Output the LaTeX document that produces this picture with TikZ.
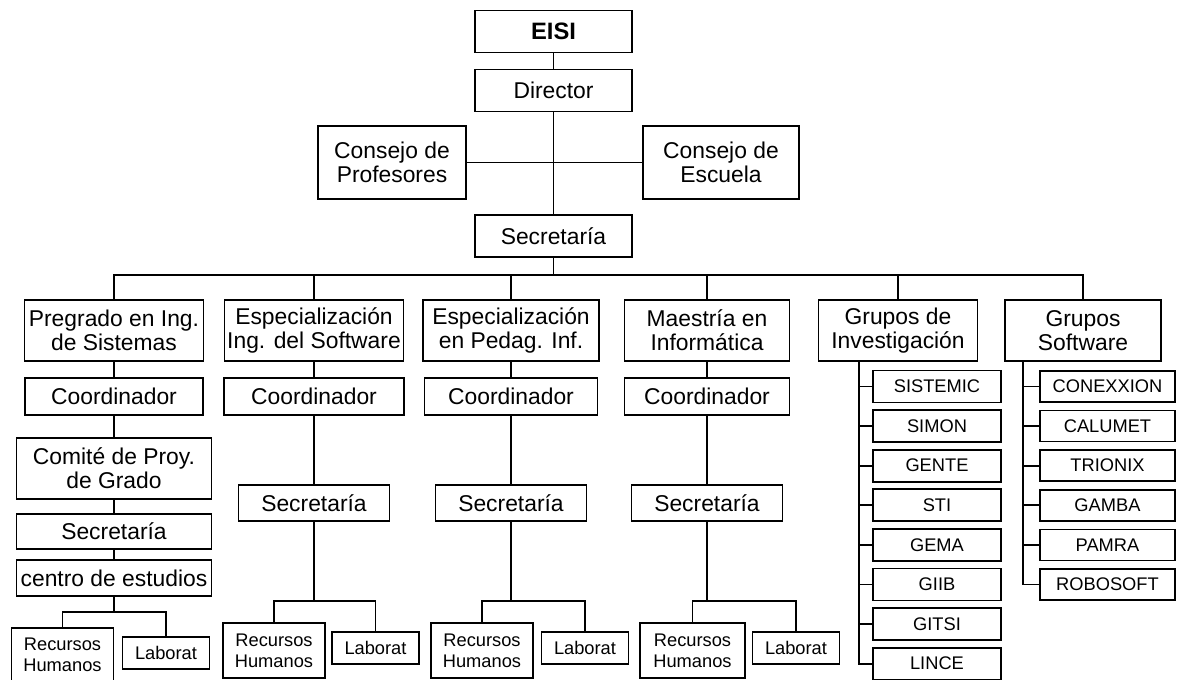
\documentclass[tikz,border=0pt]{standalone}
\usepackage{fontspec}
\setmainfont{Liberation Sans}
\tikzstyle{box} = [rectangle, draw=black, line width=1pt, inner sep=0pt, align=center, font=\fontsize{13}{13.6}\selectfont]
\tikzstyle{head} = [box, minimum width=3.14cm, minimum height=0.84cm]
\tikzstyle{council} = [box, minimum height=1.46cm]
\tikzstyle{program} = [box, minimum height=1.22cm]
\tikzstyle{coordbox} = [box, minimum height=0.74cm]
\tikzstyle{office} = [box, minimum height=0.72cm]
\tikzstyle{smallbox} = [box, font=\fontsize{10.4}{12}\selectfont]
\tikzstyle{staff} = [smallbox, minimum width=2.04cm, minimum height=1.1cm]
\tikzstyle{labbox} = [smallbox, minimum width=1.74cm, minimum height=0.64cm]
\tikzstyle{member} = [smallbox, minimum width=2.56cm, minimum height=0.64cm]
\tikzstyle{softbox} = [smallbox, minimum width=2.7cm, minimum height=0.62cm]
\tikzstyle{conn} = [line width=1pt]

\begin{document}
\begin{tikzpicture}[node distance=1cm]
\useasboundingbox (-11.07,0.63) rectangle (12.59,-12.97);

%% top of the chart
\node (eisi) [head, font=\fontsize{13.5}{14}\selectfont\bfseries] {EISI};
\node (dir)  [head, below of=eisi, yshift=-0.18cm] {Director};
\node (prof) [council, minimum width=2.96cm, left of=dir, xshift=-2.23cm, yshift=-1.44cm] {Consejo de\\Profesores};
\node (esc)  [council, minimum width=3.12cm, right of=dir, xshift=2.35cm, yshift=-1.44cm] {Consejo de\\Escuela};
\node (sec)  [head, below of=dir, yshift=-1.91cm] {Secretaría};
\node (bus)  [coordinate, below of=sec, yshift=0.22cm] {};

%% programs and groups
\node (preg) [program, minimum width=3.58cm, below of=sec, xshift=-8.79cm, yshift=-0.89cm] {Pregrado en Ing.\\de Sistemas};
\node (esof) [program, minimum width=3.58cm, right of=preg, xshift=3.0cm] {Especialización\\Ing. del Software};
\node (eped) [program, minimum width=3.52cm, right of=esof, xshift=2.94cm] {Especialización\\en Pedag. Inf.};
\node (maes) [program, minimum width=3.3cm, right of=eped, xshift=2.92cm] {Maestría en\\Informática};
\node (ginv) [program, minimum width=3.18cm, right of=maes, xshift=2.82cm] {Grupos de\\Investigación};
\node (gsof) [program, minimum width=3.12cm, right of=ginv, xshift=2.7cm] {Grupos\\Software};

%% coordinators
\node (co1) [coordbox, minimum width=3.56cm, below of=preg, yshift=-0.32cm] {Coordinador};
\node (co2) [coordbox, minimum width=3.6cm, below of=esof, yshift=-0.32cm] {Coordinador};
\node (co3) [coordbox, minimum width=3.46cm, below of=eped, yshift=-0.32cm] {Coordinador};
\node (co4) [coordbox, minimum width=3.3cm, below of=maes, yshift=-0.32cm] {Coordinador};

%% pregrado
\node (comite) [program, minimum width=3.9cm, below of=co1, yshift=-0.44cm] {Comité de Proy.\\de Grado};
\node (sec1)   [office, minimum width=3.9cm, minimum height=0.7cm, below of=comite, yshift=-0.26cm] {Secretaría};
\node (centro) [office, minimum width=3.9cm, below of=sec1, yshift=0.07cm] {centro de estudios};
\node (fork1)  [coordinate, below of=centro, yshift=0.32cm] {};
\node (rh1)  [staff, minimum height=1.06cm, below of=centro, xshift=-1.03cm, yshift=-0.53cm] {Recursos\\Humanos};
\node (lab1) [labbox, below of=centro, xshift=1.04cm, yshift=-0.5cm] {Laborat};

%% especializaciones and maestria
\node (sec2)  [office, minimum width=3.02cm, below of=co2, yshift=-1.13cm] {Secretaría};
\node (fork2) [coordinate, below of=sec2, yshift=-0.96cm] {};
\node (rh2)  [staff, below of=sec2, xshift=-0.8cm, yshift=-1.95cm] {Recursos\\Humanos};
\node (lab2) [labbox, below of=sec2, xshift=1.23cm, yshift=-1.9cm] {Laborat};

\node (sec3)  [office, minimum width=3.02cm, below of=co3, yshift=-1.13cm] {Secretaría};
\node (fork3) [coordinate, below of=sec3, yshift=-0.96cm] {};
\node (rh3)  [staff, below of=sec3, xshift=-0.58cm, yshift=-1.95cm] {Recursos\\Humanos};
\node (lab3) [labbox, below of=sec3, xshift=1.48cm, yshift=-1.9cm] {Laborat};

\node (sec4)  [office, minimum width=3.02cm, below of=co4, yshift=-1.13cm] {Secretaría};
\node (fork4) [coordinate, below of=sec4, yshift=-0.96cm] {};
\node (rh4)  [staff, minimum width=2.1cm, below of=sec4, xshift=-0.29cm, yshift=-1.95cm] {Recursos\\Humanos};
\node (lab4) [labbox, below of=sec4, xshift=1.78cm, yshift=-1.9cm] {Laborat};

%% research groups
\node (inv0) [coordinate, below of=ginv, xshift=-0.78cm, yshift=0.39cm] {};
\node (sistemic) [member, below of=ginv, xshift=0.78cm, yshift=-0.12cm] {SISTEMIC};
\node (simon)    [member, below of=sistemic, yshift=0.208cm] {SIMON};
\node (gente)    [member, below of=simon, yshift=0.208cm] {GENTE};
\node (sti)      [member, below of=gente, yshift=0.208cm] {STI};
\node (gema)     [member, below of=sti, yshift=0.208cm] {GEMA};
\node (giib)     [member, below of=gema, yshift=0.208cm] {GIIB};
\node (gitsi)    [member, below of=giib, yshift=0.208cm] {GITSI};
\node (lince)    [member, below of=gitsi, yshift=0.208cm] {LINCE};

%% software groups
\node (sof0) [coordinate, below of=gsof, xshift=-1.2cm, yshift=0.39cm] {};
\node (conexxion) [softbox, below of=gsof, xshift=0.49cm, yshift=-0.12cm] {CONEXXION};
\node (calumet)   [softbox, below of=conexxion, yshift=0.208cm] {CALUMET};
\node (trionix)   [softbox, below of=calumet, yshift=0.208cm] {TRIONIX};
\node (gamba)     [softbox, below of=trionix, yshift=0.208cm] {GAMBA};
\node (pamra)     [softbox, below of=gamba, yshift=0.208cm] {PAMRA};
\node (robosoft)  [softbox, below of=pamra, yshift=0.208cm] {ROBOSOFT};

%% Draw the connectivity.
\draw [conn] (eisi)--(dir);
\draw [conn] (dir)--(sec);
\draw [conn] (prof)--(esc);
\draw [conn] (sec)--(bus);
\draw [conn] (bus)-|(preg);
\draw [conn] (bus)-|(esof);
\draw [conn] (bus)-|(eped);
\draw [conn] (bus)-|(maes);
\draw [conn] (bus)-|(ginv);
\draw [conn] (bus)-|(gsof);

\draw [conn] (preg)--(co1);
\draw [conn] (co1)--(comite);
\draw [conn] (comite)--(sec1);
\draw [conn] (sec1)--(centro);
\draw [conn] (centro)--(fork1);
\draw [conn] (fork1)-|(rh1);
\draw [conn] (fork1)-|(lab1);

\draw [conn] (esof)--(co2);
\draw [conn] (co2)--(sec2);
\draw [conn] (sec2)--(fork2);
\draw [conn] (fork2)-|(rh2);
\draw [conn] (fork2)-|(lab2);

\draw [conn] (eped)--(co3);
\draw [conn] (co3)--(sec3);
\draw [conn] (sec3)--(fork3);
\draw [conn] (fork3)-|(rh3);
\draw [conn] (fork3)-|(lab3);

\draw [conn] (maes)--(co4);
\draw [conn] (co4)--(sec4);
\draw [conn] (sec4)--(fork4);
\draw [conn] (fork4)-|(rh4);
\draw [conn] (fork4)-|(lab4);

\draw [conn] (inv0)|-(lince);
\draw [conn] (inv0 |- sistemic)--(sistemic);
\draw [conn] (inv0 |- simon)--(simon);
\draw [conn] (inv0 |- gente)--(gente);
\draw [conn] (inv0 |- sti)--(sti);
\draw [conn] (inv0 |- gema)--(gema);
\draw [conn] (inv0 |- giib)--(giib);
\draw [conn] (inv0 |- gitsi)--(gitsi);

\draw [conn] (sof0)|-(robosoft);
\draw [conn] (sof0 |- conexxion)--(conexxion);
\draw [conn] (sof0 |- calumet)--(calumet);
\draw [conn] (sof0 |- trionix)--(trionix);
\draw [conn] (sof0 |- gamba)--(gamba);
\draw [conn] (sof0 |- pamra)--(pamra);
\end{tikzpicture}
\end{document}
